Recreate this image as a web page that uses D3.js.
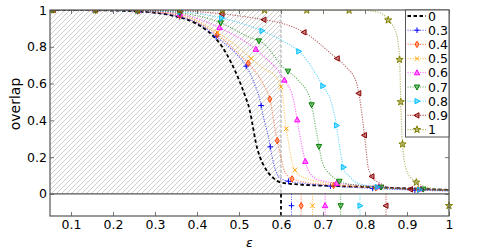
<!DOCTYPE html>
<html>
<head>
<meta charset="utf-8">
<script src="https://cdn.jsdelivr.net/npm/d3@7"></script>
<style>
  body { margin: 0; background: #fff; }
  svg { display: block; font-family: "DejaVu Sans", sans-serif; }
</style>
</head>
<body>
<svg id="chart" width="498" height="249"></svg>
<script>
// series labels (legend) and the threshold epsilon of each one
var labels = ["0", "0.3", "0.4", "0.5", "0.6", "0.7", "0.8", "0.9", "1"];
var thresholds = [0.6, 0.625, 0.648, 0.675, 0.705, 0.742, 0.788, 0.85, 1.0];

// overlap curves, [epsilon, overlap]
var curve0 = [[0.05,1],[0.2,0.997],[0.3,0.985],[0.35,0.965],[0.38,0.945],[0.41,0.91],[0.44,0.855],
  [0.46,0.8],[0.48,0.72],[0.5,0.62],[0.515,0.53],[0.525,0.46],[0.532,0.38],[0.54,0.28],[0.55,0.2],
  [0.56,0.15],[0.58,0.09],[0.6,0.062],[0.65,0.05],[0.7,0.045],[0.8,0.038],[0.9,0.03],[1,0.022]];
var curve03 = [[0.05,1],[0.2,0.997],[0.3,0.985],[0.36,0.962],[0.4,0.93],[0.457,0.834],[0.49,0.77],
  [0.519,0.687],[0.54,0.58],[0.55,0.51],[0.557,0.43],[0.57,0.31],[0.579,0.2],[0.59,0.11],[0.6,0.082],
  [0.62,0.068],[0.65,0.058],[0.7,0.046],[0.8,0.032],[0.9,0.022],[1,0.016]];
var curve04 = [[0.05,1],[0.2,0.998],[0.3,0.987],[0.36,0.968],[0.457,0.85],[0.5,0.76],[0.53,0.69],
  [0.557,0.6],[0.575,0.5],[0.588,0.325],[0.6,0.2],[0.608,0.125],[0.62,0.09],[0.64,0.072],[0.7,0.052],
  [0.8,0.036],[0.9,0.026],[1,0.018]];
var curve05 = [[0.05,1],[0.2,0.999],[0.3,0.99],[0.36,0.975],[0.457,0.866],[0.557,0.685],[0.59,0.63],
  [0.603,0.55],[0.61,0.4],[0.62,0.25],[0.629,0.15],[0.645,0.1],[0.66,0.085],[0.7,0.062],[0.8,0.04],
  [0.9,0.028],[1,0.02]];
var curve06 = [[0.05,1],[0.2,0.999],[0.3,0.992],[0.36,0.978],[0.457,0.9],[0.557,0.752],[0.605,0.63],
  [0.63,0.51],[0.638,0.41],[0.648,0.28],[0.659,0.167],[0.679,0.088],[0.7,0.07],[0.8,0.045],[0.9,0.03],
  [1,0.022]];
var curve07 = [[0.05,1],[0.3,0.995],[0.36,0.985],[0.457,0.93],[0.526,0.85],[0.557,0.82],[0.605,0.69],
  [0.64,0.62],[0.669,0.52],[0.685,0.33],[0.698,0.176],[0.72,0.1],[0.758,0.055],[0.8,0.044],[0.9,0.03],
  [1,0.022]];
var curve08 = [[0.05,1],[0.36,0.99],[0.457,0.957],[0.526,0.912],[0.557,0.885],[0.598,0.84],[0.657,0.74],
  [0.7,0.585],[0.718,0.51],[0.73,0.4],[0.739,0.263],[0.752,0.12],[0.759,0.105],[0.78,0.06],[0.855,0.031],
  [0.9,0.025],[1,0.02]];
var curve09 = [[0.05,1],[0.36,0.995],[0.457,0.98],[0.557,0.948],[0.598,0.93],[0.657,0.876],[0.717,0.767],
  [0.755,0.69],[0.779,0.61],[0.788,0.51],[0.8,0.294],[0.808,0.14],[0.82,0.085],[0.836,0.058],[0.855,0.036],
  [0.9,0.026],[1,0.02]];
var curve1 = [[0.05,1],[0.795,0.998],[0.836,0.985],[0.858,0.937],[0.871,0.894],[0.879,0.82],[0.883,0.69],
  [0.885,0.51],[0.889,0.28],[0.898,0.135],[0.915,0.076],[0.959,0.031],[1,0.02]];

var curves = [curve0, curve03, curve04, curve05, curve06, curve07, curve08, curve09, curve1];
var colors = ["#000000", "#0000ff", "#ff4500", "#ffa500", "#ff00ff", "#008000", "#00bfff", "#8b0000", "#808000"];
var markers = [null, "plus", "thin_diamond", "x", "tri_up", "tri_down", "tri_right", "tri_left", "star"];

var xTicks = [0.1, 0.2, 0.3, 0.4, 0.5, 0.6, 0.7, 0.8, 0.9, 1];
var yTicks = [0, 0.2, 0.4, 0.6, 0.8, 1];

(function() {
  var svg = d3.select("#chart");
  var x0 = 50, x1 = 449, y0 = 10, y1 = 216;
  var fs = 12.5;

  var x = d3.scaleLinear().domain([0.05, 1]).range([x0, x1]);
  var y = d3.scaleLinear().domain([-0.12, 1]).range([y1, y0]);
  var fmt = function(d) { return d3.format("~g")(d); };

  // marker shapes, centred on 0,0
  function markerPath(type) {
    switch (type) {
      case "plus": return "M-2.8,0H2.8M0,-2.8V2.8";
      case "thin_diamond": return "M0,-3.2L2,0L0,3.2L-2,0Z";
      case "x": return "M-2.3,-2.3L2.3,2.3M-2.3,2.3L2.3,-2.3";
      case "tri_up": return "M0,-3L2.7,2L-2.7,2Z";
      case "tri_down": return "M0,3L2.7,-2L-2.7,-2Z";
      case "tri_right": return "M3,0L-2,2.7L-2,-2.7Z";
      case "tri_left": return "M-3,0L2,2.7L2,-2.7Z";
      case "star": return d3.symbol(d3.symbolStar, 16)();
    }
    return "";
  }

  function drawMarker(g, type, color, px, py) {
    g.append("path")
      .attr("d", markerPath(type))
      .attr("transform", "translate(" + px + "," + py + ")")
      .attr("fill", (type === "plus" || type === "x") ? "none" : color)
      .attr("fill-opacity", 0.45)
      .attr("stroke", color)
      .attr("stroke-width", 1);
  }

  var defs = svg.append("defs");
  defs.append("clipPath").attr("id", "clip")
    .append("rect").attr("x", x0).attr("y", y0).attr("width", x1 - x0).attr("height", y1 - y0);

  // hatch for the region below the critical epsilon
  var pat = defs.append("pattern").attr("id", "hatch")
    .attr("patternUnits", "userSpaceOnUse").attr("width", 5).attr("height", 5);
  pat.append("path")
    .attr("d", "M0,5L5,0M-1,1L1,-1M4,6L6,4")
    .attr("stroke", "#b8b8b8").attr("stroke-width", 0.7);

  svg.append("rect")
    .attr("x", x(0.05)).attr("y", y(1))
    .attr("width", x(0.6) - x(0.05)).attr("height", y(0) - y(1))
    .attr("fill", "url(#hatch)");

  svg.append("line")
    .attr("x1", x(0.6)).attr("x2", x(0.6)).attr("y1", y(1)).attr("y2", y(0))
    .attr("stroke", "#888").attr("stroke-width", 0.8).attr("stroke-dasharray", "3,2");

  // zero line
  svg.append("line")
    .attr("x1", x0).attr("x2", x1).attr("y1", y(0)).attr("y2", y(0))
    .attr("stroke", "#555").attr("stroke-width", 1.2);

  var plot = svg.append("g").attr("clip-path", "url(#clip)");
  var line = d3.line().x(function(d) { return x(d[0]); }).y(function(d) { return y(d[1]); })
    .curve(d3.curveMonotoneX);

  // threshold ticks under the zero line
  var thr = svg.append("g");
  thresholds.forEach(function(t, i) {
    var isBlack = i === 0;
    thr.append("line")
      .attr("x1", x(t)).attr("x2", x(t)).attr("y1", y(0)).attr("y2", y1)
      .attr("stroke", colors[i])
      .attr("stroke-width", isBlack ? 1.8 : 1)
      .attr("stroke-opacity", isBlack ? 1 : 0.6)
      .attr("stroke-dasharray", isBlack ? "3.5,2.5" : "1.2,1.3");
    if (!isBlack) drawMarker(thr, markers[i], colors[i], x(t), y(-0.064));
  });

  // curves, markers spaced evenly along each path (like markevery)
  curves.forEach(function(c, i) {
    var isBlack = i === 0;
    var p = plot.append("path")
      .attr("d", line(c))
      .attr("fill", "none")
      .attr("stroke", colors[i])
      .attr("stroke-width", isBlack ? 1.8 : 1.1)
      .attr("stroke-opacity", isBlack ? 1 : 0.6)
      .attr("stroke-dasharray", isBlack ? "3.5,2.5" : "1.2,1.3");
    if (isBlack) return;
    var node = p.node(), len = node.getTotalLength();
    for (var s = 3; s <= len; s += 42.3) {
      var pt = node.getPointAtLength(s);
      drawMarker(plot, markers[i], colors[i], pt.x, pt.y);
    }
  });

  // axes
  var axisColor = "#555";
  function styleAxis(g) {
    g.select(".domain").remove();
    g.selectAll(".tick line").attr("stroke", axisColor).attr("stroke-width", 0.8);
    g.selectAll(".tick text").attr("fill", "#000").attr("font-size", fs)
      .attr("font-family", "DejaVu Sans, sans-serif");
  }
  svg.append("g").attr("transform", "translate(0," + y1 + ")")
    .call(d3.axisBottom(x).tickValues(xTicks).tickFormat(fmt).tickSize(-4).tickPadding(4))
    .call(styleAxis);
  svg.append("g").attr("transform", "translate(0," + y0 + ")")
    .call(d3.axisTop(x).tickValues(xTicks).tickFormat("").tickSize(-4))
    .call(styleAxis);
  svg.append("g").attr("transform", "translate(" + x0 + ",0)")
    .call(d3.axisLeft(y).tickValues(yTicks).tickFormat(fmt).tickSize(-4).tickPadding(3))
    .call(styleAxis);
  svg.append("g").attr("transform", "translate(" + x1 + ",0)")
    .call(d3.axisRight(y).tickValues(yTicks).tickFormat("").tickSize(-4))
    .call(styleAxis);

  svg.append("rect")
    .attr("x", x0).attr("y", y0).attr("width", x1 - x0).attr("height", y1 - y0)
    .attr("fill", "none").attr("stroke", axisColor).attr("stroke-width", 1.2);

  // axis labels
  svg.append("text")
    .attr("transform", "translate(20,104) rotate(-90)")
    .attr("text-anchor", "middle").attr("font-size", 14).text("overlap");
  svg.append("text")
    .attr("x", (x0 + x1) / 2).attr("y", 247)
    .attr("text-anchor", "middle").attr("font-size", fs).attr("font-style", "italic").text("\u03b5");

  // legend
  var lg = svg.append("g");
  lg.append("rect")
    .attr("x", 405.5).attr("y", y0).attr("width", x1 - 405.5).attr("height", 127)
    .attr("fill", "#fff").attr("stroke", axisColor).attr("stroke-width", 1);
  labels.forEach(function(lab, i) {
    var ly = 16 + i * 14.2;
    var isBlack = i === 0;
    lg.append("line")
      .attr("x1", 407.5).attr("x2", 426).attr("y1", ly).attr("y2", ly)
      .attr("stroke", colors[i])
      .attr("stroke-width", isBlack ? 1.8 : 1.1)
      .attr("stroke-opacity", isBlack ? 1 : 0.6)
      .attr("stroke-dasharray", isBlack ? "3.5,2.5" : "1.2,1.3");
    if (!isBlack) drawMarker(lg, markers[i], colors[i], 417, ly);
    lg.append("text")
      .attr("x", 428).attr("y", ly).attr("dy", "0.36em")
      .attr("font-size", fs).text(lab);
  });
})();
</script>
</body>
</html>
